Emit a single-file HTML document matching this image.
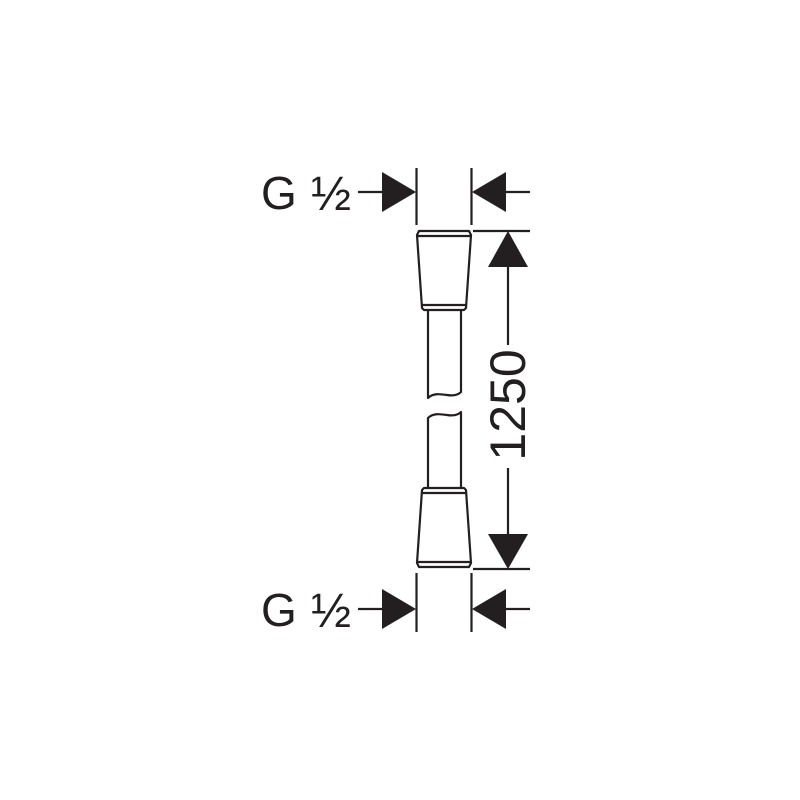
<!DOCTYPE html>
<html><head><style>html,body{margin:0;padding:0;background:#fff;}svg{display:block}</style></head>
<body>
<svg width="800" height="800" viewBox="0 0 800 800" xmlns="http://www.w3.org/2000/svg">
<g stroke="#231f20" stroke-width="2.2" fill="none" stroke-linejoin="round">
<line x1="416.5" y1="168" x2="416.5" y2="225"/>
<line x1="471.5" y1="168" x2="471.5" y2="225"/>
<line x1="416.5" y1="573" x2="416.5" y2="632"/>
<line x1="471.5" y1="573" x2="471.5" y2="632"/>
<line x1="358" y1="192" x2="384" y2="192"/>
<line x1="504" y1="192" x2="530" y2="192"/>
<line x1="358" y1="609" x2="384" y2="609"/>
<line x1="504" y1="609" x2="530" y2="609"/>
<line x1="473" y1="231" x2="530" y2="231"/>
<line x1="473" y1="569" x2="530" y2="569"/>
<line x1="508" y1="265" x2="508" y2="345"/>
<line x1="508" y1="468" x2="508" y2="535"/>
<path d="M419,231 L469,231 L471,235 L466,308 L464,310 L424,310 L422,308 L417,235 Z"/>
<line x1="418" y1="236" x2="470" y2="236"/>
<line x1="422" y1="305" x2="466" y2="305"/>
<path d="M428,310 L428,398 C433,393 440,394 447,395 C453,396 458,395 461,392 L461,310"/>
<path d="M428,488 L428,418 C433,413 440,414 447,415 C453,416 458,415 461,412 L461,488"/>
<path d="M424,488 L464,488 L466,490 L471,563 L469,567 L419,567 L417,563 L422,490 Z"/>
<line x1="422" y1="493" x2="466" y2="493"/>
<line x1="418" y1="562" x2="470" y2="562"/>
</g>
<g fill="#231f20">
<polygon points="416,192 382,172 382,212"/>
<polygon points="472,192 506,172 506,212"/>
<polygon points="416,609 382,589 382,629"/>
<polygon points="472,609 506,589 506,629"/>
<polygon points="508,231 488,267 528,267"/>
<polygon points="508,569 488,534 528,534"/>
</g>
<g font-family="Liberation Sans, DejaVu Sans, sans-serif" fill="#231f20">
<text x="261" y="209" font-size="46">G</text>
<text x="311" y="210" font-size="48">½</text>
<text x="261" y="626" font-size="46">G</text>
<text x="311" y="627" font-size="48">½</text>
<text transform="translate(525,405) rotate(-90)" text-anchor="middle" font-size="50">1250</text>
</g>
</svg>
</body></html>
